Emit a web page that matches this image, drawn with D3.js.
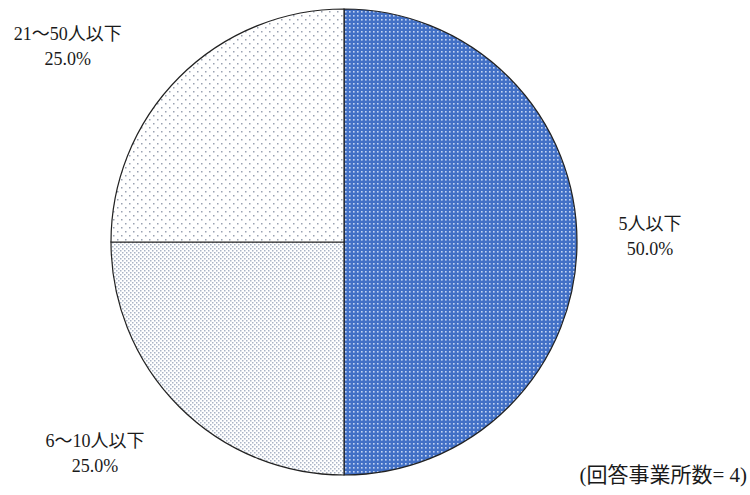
<!DOCTYPE html>
<html lang="ja">
<head>
<meta charset="utf-8">
<script src="https://cdn.jsdelivr.net/npm/d3@7"></script>
<style>
  html, body { margin: 0; padding: 0; background: #fff; }
  svg text { font-family: "Liberation Serif", "Noto Sans CJK JP", serif; fill: #1a1a1a; }
</style>
</head>
<body>
<svg id="chart" width="750" height="495"></svg>
<script>
// Respondent establishments by number of employees
const categories = ["5人以下", "6～10人以下", "21～50人以下"];
const values = [50.0, 25.0, 25.0];
const valueLabels = ["50.0%", "25.0%", "25.0%"];
const note = "(回答事業所数= 4)";

const width = 750, height = 495;
const cx = 344, cy = 242, radius = 233;

const svg = d3.select("#chart");
const defs = svg.append("defs");

// Dot-pattern fills for the three slices
function dotPattern(id, size, bg, dot, dotSize, points) {
  const p = defs.append("pattern")
    .attr("id", id)
    .attr("patternUnits", "userSpaceOnUse")
    .attr("width", size).attr("height", size);
  p.append("rect").attr("width", size).attr("height", size).attr("fill", bg);
  points.forEach(([x, y]) => {
    p.append("rect").attr("x", x).attr("y", y)
      .attr("width", dotSize).attr("height", dotSize).attr("fill", dot);
  });
}
dotPattern("pat-blue", 4, "#4270c6", "#c4d4f2", 1.6, [[1, 1]]);
dotPattern("pat-dense", 4, "#ffffff", "#aab4c6", 1.5, [[0, 0], [2, 2]]);
dotPattern("pat-sparse", 8, "#ffffff", "#9aa2b2", 1.5, [[1, 1], [5, 5]]);
const fills = ["url(#pat-blue)", "url(#pat-dense)", "url(#pat-sparse)"];

const pie = d3.pie().sort(null).value(d => d)(values);
const arc = d3.arc().innerRadius(0).outerRadius(radius);

const g = svg.append("g").attr("transform", `translate(${cx},${cy})`);

g.selectAll("path.slice")
  .data(pie)
  .join("path")
  .attr("class", "slice")
  .attr("d", arc)
  .attr("fill", (d, i) => fills[i])
  .attr("stroke", "#222")
  .attr("stroke-width", 1.2)
  .attr("stroke-linejoin", "miter");

// Labels sit outside the rim, along each slice's mid-angle with a small turn
const labelRadius = [306, 325, 340];
const labelTurn = [-0.028, 0.088, -0.163];
const labels = g.selectAll("text.label")
  .data(pie)
  .join("text")
  .attr("class", "label")
  .attr("text-anchor", "middle")
  .attr("font-size", 18)
  .attr("transform", (d, i) => {
    const a = (d.startAngle + d.endAngle) / 2 + labelTurn[i];
    const r = labelRadius[i];
    return `translate(${Math.sin(a) * r},${-Math.cos(a) * r})`;
  });
labels.append("tspan").attr("x", 0).attr("dy", "-0.2em").text((d, i) => categories[i]);
labels.append("tspan").attr("x", 0).attr("dy", "1.4em").text((d, i) => valueLabels[i]);

svg.append("text")
  .attr("x", 747).attr("y", 482)
  .attr("text-anchor", "end")
  .attr("font-size", 21)
  .text(note);
</script>
</body>
</html>
